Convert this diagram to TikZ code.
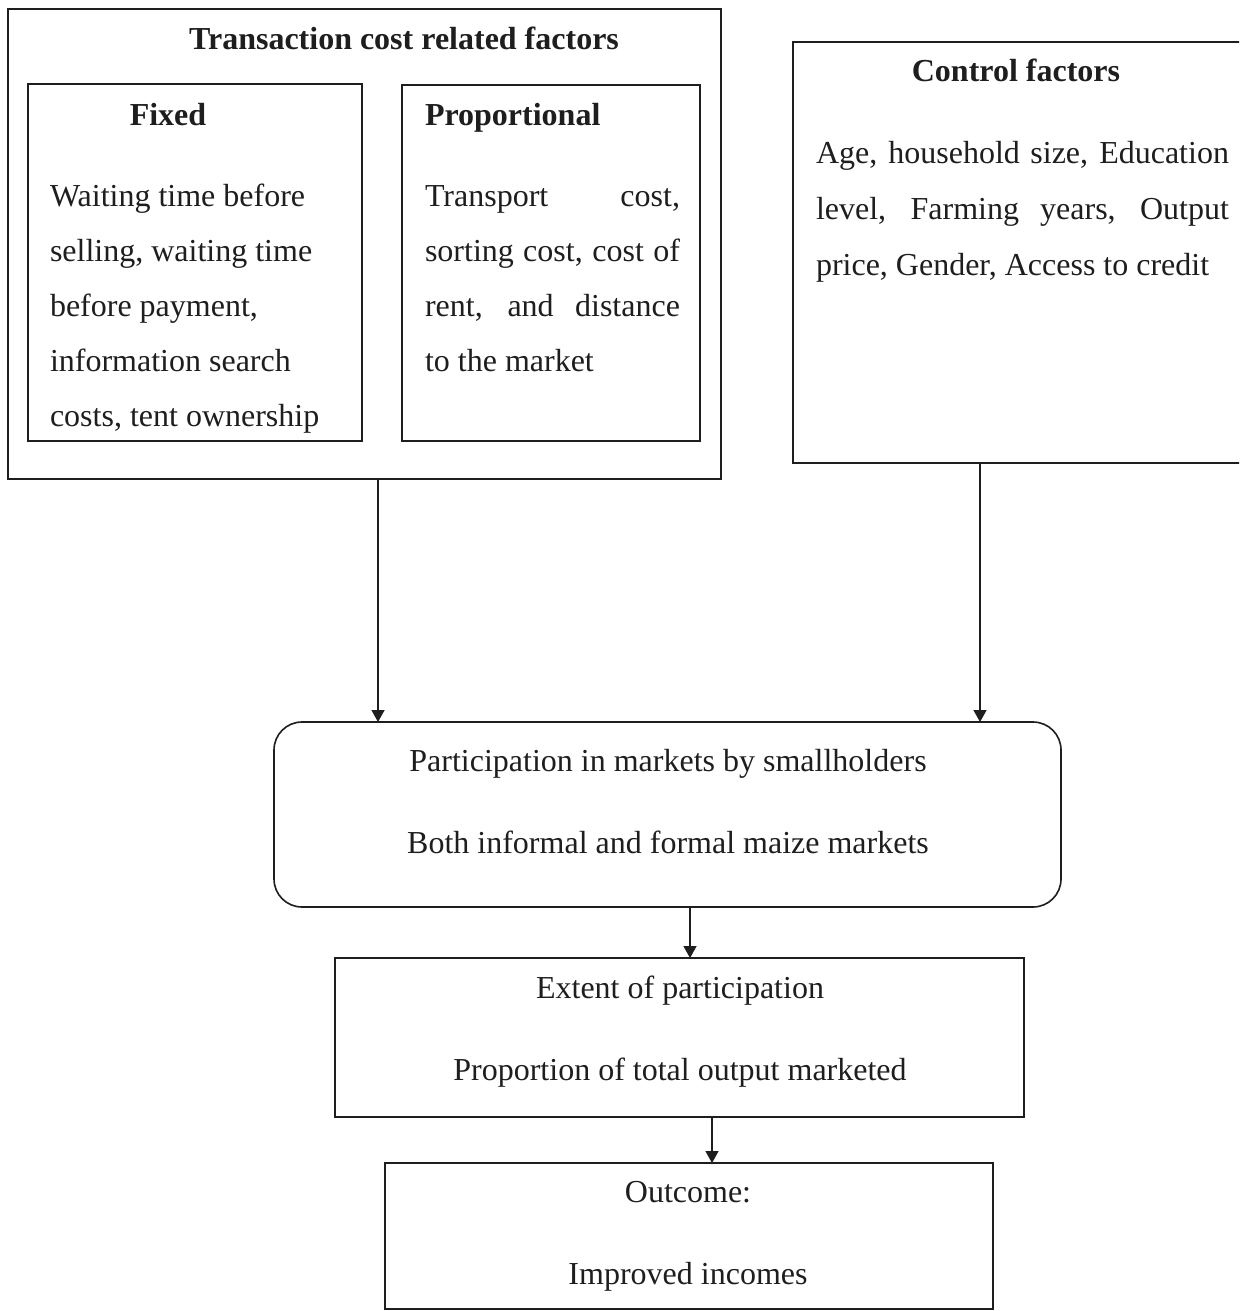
\documentclass[tikz,border=0pt]{standalone}
\usepackage{fontspec}
\setmainfont{Liberation Serif}
\usetikzlibrary{arrows.meta}
\definecolor{ink}{HTML}{1E1E1E}
\begin{document}
\begin{tikzpicture}[x=1pt,y=-1pt,
  box/.style={draw=ink, line width=1.6pt, inner sep=0pt, outer sep=0pt},
  txt/.style={inner sep=0pt, outer sep=0pt, text=ink, font=\fontsize{32}{55}\selectfont},
  bold/.style={inner sep=0pt, outer sep=0pt, text=ink, font=\fontsize{32}{55}\selectfont\bfseries},
  arr/.style={draw=ink, line width=1.5pt, -{Triangle[length=12pt,width=13pt]}}]
\useasboundingbox (0,0) rectangle (1239,1311);
\clip (0,0) rectangle (1239,1311);
\fill[white] (0,0) rectangle (1239,1311);

% Transaction cost group
\node[box, minimum width=713pt, minimum height=470pt] (tc) at (364.5,244) {};
\node[bold, anchor=base] (tctitle) at (404,50) {Transaction cost related factors};

\node[box, minimum width=334pt, minimum height=357pt] (fixed) at (195,262.5) {};
\node[bold, anchor=base] (fixedtitle) at (168,125) {Fixed};
\node[txt, anchor=base west] (fixedtext) at (50,206) {\begin{tabular}[t]{@{}l@{}}Waiting time before\\ selling, waiting time\\ before payment,\\ information search\\ costs, tent ownership\end{tabular}};

\node[box, minimum width=298pt, minimum height=356pt] (prop) at (551,263) {};
\node[bold, anchor=base west] (proptitle) at (425,125) {Proportional};
\node[txt, anchor=base west] (proptext) at (425,206) {\begin{tabular}[t]{@{}l@{}}\makebox[255pt][s]{Transport cost,}\\ \makebox[255pt][s]{sorting cost, cost of}\\ \makebox[255pt][s]{rent, and distance}\\ to the market\end{tabular}};

% Control factors
\node[box, minimum width=457pt, minimum height=421pt] (ctrl) at (1021.5,252.5) {};
\node[bold, anchor=base] (ctrltitle) at (1016,82) {Control factors};
\node[txt, font=\fontsize{32}{56}\selectfont, anchor=base west] (ctrltext) at (816,163) {\begin{tabular}[t]{@{}l@{}}\makebox[413pt][s]{Age, household size, Education}\\ \makebox[413pt][s]{level, Farming years, Output}\\ price, Gender, Access to credit\end{tabular}};

% Participation
\node[box, rounded corners=28pt, minimum width=787pt, minimum height=185pt] (part) at (667.5,814.5) {};
\node[txt, anchor=base] (part1) at (668,771) {Participation in markets by smallholders};
\node[txt, anchor=base] (part2) at (668,853) {Both informal and formal maize markets};

% Extent
\node[box, minimum width=689pt, minimum height=159pt] (ext) at (679.5,1037.5) {};
\node[txt, anchor=base] (ext1) at (680,998) {Extent of participation};
\node[txt, anchor=base] (ext2) at (680,1080) {Proportion of total output marketed};

% Outcome
\node[box, minimum width=608pt, minimum height=146pt] (out) at (689,1236) {};
\node[txt, anchor=base] (out1) at (688,1202) {Outcome:};
\node[txt, anchor=base] (out2) at (688,1284) {Improved incomes};

% connectors
\coordinate (a1) at (378,0);
\coordinate (a2) at (980,0);
\coordinate (a3) at (690,0);
\coordinate (a4) at (712,0);
\draw[arr] (tc.south -| a1) -- (part.north -| a1);
\draw[arr] (ctrl.south -| a2) -- (part.north -| a2);
\draw[arr] (part.south -| a3) -- (ext.north -| a3);
\draw[arr] (ext.south -| a4) -- (out.north -| a4);
\end{tikzpicture}
\end{document}
